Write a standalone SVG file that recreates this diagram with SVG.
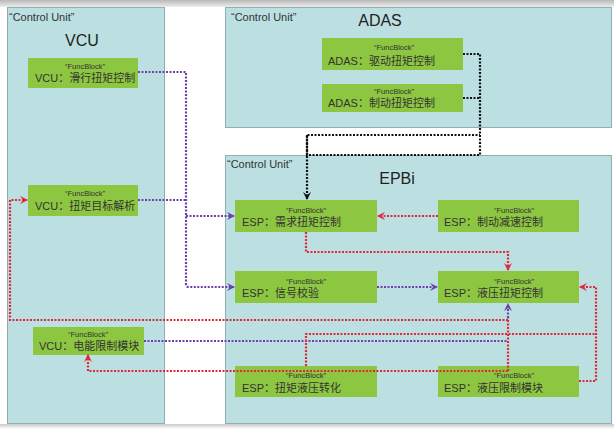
<svg xmlns="http://www.w3.org/2000/svg" width="614" height="433" viewBox="0 0 614 433">
<style>
.panel{fill:#BCE0E2;stroke:#92AEB2;stroke-width:1}
.node{fill:#8DC641}
.cu{font-family:"Liberation Sans","Noto Sans CJK SC",sans-serif;font-size:11px;fill:#333}
.title{font-family:"Liberation Sans",sans-serif;font-size:16px;fill:#222;text-anchor:middle}
.fb{font-family:"Liberation Sans",sans-serif;font-size:7.5px;fill:#333;text-anchor:middle}
.lbl{font-family:"Liberation Sans","Noto Sans CJK SC",sans-serif;font-size:11px;fill:#333}
.c{fill:none;stroke-width:2.2;stroke-dasharray:2 1.5}
.red{stroke:#E0283C}
.pur{stroke:#6E3FA8}
.blk{stroke:#111}
</style>
<defs>
<linearGradient id="top" x1="0" y1="0" x2="0" y2="1"><stop offset="0" stop-color="#b8b8b8"/><stop offset="1" stop-color="#ececec"/></linearGradient>
<linearGradient id="bot" x1="0" y1="0" x2="0" y2="1"><stop offset="0" stop-color="#c8c8c8"/><stop offset="1" stop-color="#ffffff"/></linearGradient>
<marker id="ar" viewBox="0 0 8 8" refX="7" refY="4" markerWidth="8" markerHeight="8" markerUnits="userSpaceOnUse" orient="auto"><path d="M0,0 L8,4 L0,8 L3,4 z" fill="#E0283C"/></marker>
<marker id="ap" viewBox="0 0 8 8" refX="7" refY="4" markerWidth="8" markerHeight="8" markerUnits="userSpaceOnUse" orient="auto"><path d="M0,0 L8,4 L0,8 L3,4 z" fill="#6E3FA8"/></marker>
<marker id="ab" viewBox="0 0 8 8" refX="7" refY="4" markerWidth="8" markerHeight="8" markerUnits="userSpaceOnUse" orient="auto"><path d="M0,0 L8,4 L0,8 L3,4 z" fill="#111"/></marker>
</defs>
<rect width="614" height="433" fill="#fff"/>
<rect x="0" y="0" width="614" height="7" fill="url(#top)"/>
<rect x="0" y="424" width="614" height="5" fill="url(#bot)"/>

<g id="panel-vcu">
<rect class="panel" x="7.5" y="7.5" width="157" height="416"/>
<text class="cu" x="9" y="21">“Control Unit”</text>
<text class="title" x="82" y="46">VCU</text>
</g>
<g id="panel-adas">
<rect class="panel" x="225.5" y="7.5" width="386" height="120"/>
<text class="cu" x="231" y="21">“Control Unit”</text>
<text class="title" x="380" y="26">ADAS</text>
</g>
<g id="panel-epbi">
<rect class="panel" x="225.5" y="155.5" width="386" height="268"/>
<text class="cu" x="227" y="168">“Control Unit”</text>
<text class="title" x="397" y="184">EPBi</text>
</g>

<g id="vcu-glide">
<rect class="node" x="28" y="58" width="110" height="30"/>
<text class="fb" x="85" y="69">“FuncBlock”</text>
<text class="lbl" x="35" y="82">VCU：滑行扭矩控制</text>
</g>
<g id="vcu-target">
<rect class="node" x="28" y="185" width="110" height="31"/>
<text class="fb" x="85" y="196">“FuncBlock”</text>
<text class="lbl" x="35" y="210">VCU：扭矩目标解析</text>
</g>
<g id="vcu-power">
<rect class="node" x="33" y="327" width="111" height="28"/>
<text class="fb" x="88" y="337">“FuncBlock”</text>
<text class="lbl" x="39" y="350">VCU：电能限制模块</text>
</g>
<g id="adas-drive">
<rect class="node" x="322" y="38" width="141" height="32"/>
<text class="fb" x="394" y="50">“FuncBlock”</text>
<text class="lbl" x="328" y="65">ADAS：驱动扭矩控制</text>
</g>
<g id="adas-brake">
<rect class="node" x="322" y="84" width="141" height="28"/>
<text class="fb" x="394" y="94">“FuncBlock”</text>
<text class="lbl" x="328" y="107">ADAS：制动扭矩控制</text>
</g>
<g id="esp-demand">
<rect class="node" x="235" y="200" width="142" height="32"/>
<text class="fb" x="306" y="213">“FuncBlock”</text>
<text class="lbl" x="242" y="226">ESP：需求扭矩控制</text>
</g>
<g id="esp-decel">
<rect class="node" x="438" y="200" width="141" height="32"/>
<text class="fb" x="514" y="213">“FuncBlock”</text>
<text class="lbl" x="444" y="226">ESP：制动减速控制</text>
</g>
<g id="esp-check">
<rect class="node" x="235" y="271" width="142" height="32"/>
<text class="fb" x="306" y="284">“FuncBlock”</text>
<text class="lbl" x="242" y="297">ESP：信号校验</text>
</g>
<g id="esp-hyd">
<rect class="node" x="438" y="271" width="141" height="32"/>
<text class="fb" x="514" y="284">“FuncBlock”</text>
<text class="lbl" x="444" y="297">ESP：液压扭矩控制</text>
</g>
<g id="esp-conv">
<rect class="node" x="235" y="366" width="142" height="31"/>
<text class="fb" x="306" y="378">“FuncBlock”</text>
<text class="lbl" x="242" y="392">ESP：扭矩液压转化</text>
</g>
<g id="esp-limit">
<rect class="node" x="438" y="366" width="141" height="31"/>
<text class="fb" x="514" y="378">“FuncBlock”</text>
<text class="lbl" x="444" y="392">ESP：液压限制模块</text>
</g>

<g id="connectors">
<path class="c blk" d="M463,54 H480 V155 H307 V135 H480"/>
<path class="c blk" d="M463,98 H480"/>
<path class="c blk" d="M307,135 V199" marker-end="url(#ab)"/>
<path class="c pur" d="M138,72 H186 V284 Q186,287 189,287 H234" marker-end="url(#ap)"/>
<path class="c pur" d="M138,200 H186"/>
<path class="c pur" d="M186,216 H234" marker-end="url(#ap)"/>
<path class="c pur" d="M377,287 H437" marker-end="url(#ap)"/>
<path class="c pur" d="M144,341 H508"/>
<path class="c red" d="M438,216 H378" marker-end="url(#ar)"/>
<path class="c red" d="M306,232 V252 H508 V270" marker-end="url(#ar)"/>
<path class="c red" d="M508,320 H10 V200 H27" marker-end="url(#ar)"/>
<path class="c red" d="M306,366 V334 H596"/>
<path class="c red" d="M579,381 H596 V287 H580" marker-end="url(#ar)"/>
<path class="c red" d="M508,371 H88 V355" marker-end="url(#ar)"/>
<path class="c red" d="M508,371 V318"/>
<path class="c pur" d="M508,318 V304" marker-end="url(#ap)"/>
</g>
</svg>
